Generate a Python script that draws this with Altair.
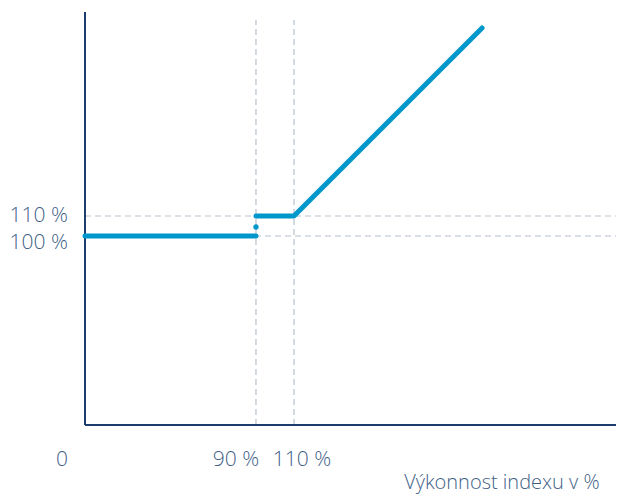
import altair as alt
import pandas as pd

# Data (schematic payoff chart)
seg_x = [0, 90, 90, 110, 209]
seg_y = [100, 100, 110, 110, 204]
seg_id = ["a", "a", "b", "b", "b"]
dot_x = [90]
dot_y = [104.5]
vlines = [90, 110]
hlines = [100, 110]
x_labels = ["0", "90 %", "110 %"]
x_label_pos = [0, 90, 110]
x_label_dx = [-23, -20, 8]
y_labels = ["110 %", "100 %"]
y_label_pos = [110, 100]
y_label_dy = [0, 7]
x_title = "Výkonnost indexu v %"

XMIN, XMAX = -40.53, 279.5
YMIN, YMAX = -30, 214
BASE_Y = 5.5
TOP_Y = 212
DASH_TOP = 208
LABEL_Y = -12
TITLE_Y = -23.5
TITLE_X = 168

xs = alt.Scale(domain=[XMIN, XMAX], nice=False, zero=False)
ys = alt.Scale(domain=[YMIN, YMAX], nice=False, zero=False)

BLUE = "#0098cb"
NAVY = "#1d3c6e"
GRID = "#b5c1ce"
TXT = "#3f5f86"
FONT = "Open Sans"
FS = 21

line_df = pd.DataFrame({"x": seg_x, "y": seg_y, "seg": seg_id})
dot_df = pd.DataFrame({"x": dot_x, "y": dot_y})
v_df = pd.DataFrame({"x": vlines, "y1": [BASE_Y] * len(vlines), "y2": [DASH_TOP] * len(vlines)})
h_df = pd.DataFrame({"y": hlines, "x1": [0] * len(hlines), "x2": [XMAX] * len(hlines)})

vdash = alt.Chart(v_df).mark_rule(color=GRID, strokeDash=[6, 4], strokeWidth=1.2).encode(
    x=alt.X("x:Q", scale=xs, axis=None), y=alt.Y("y1:Q", scale=ys, axis=None), y2="y2:Q")
hdash = alt.Chart(h_df).mark_rule(color=GRID, strokeDash=[6, 4], strokeWidth=1.2).encode(
    y=alt.Y("y:Q", scale=ys, axis=None), x=alt.X("x1:Q", scale=xs, axis=None), x2="x2:Q")

axes_df = pd.DataFrame({"x1": [0, 0], "x2": [0, XMAX], "y1": [BASE_Y, BASE_Y], "y2": [TOP_Y, BASE_Y]})
axes = alt.Chart(axes_df).mark_rule(color=NAVY, strokeWidth=2).encode(
    x=alt.X("x1:Q", scale=xs, axis=None), x2="x2:Q",
    y=alt.Y("y1:Q", scale=ys, axis=None), y2="y2:Q")

line = alt.Chart(line_df).mark_line(color=BLUE, strokeWidth=5, strokeCap="round", strokeJoin="round").encode(
    x=alt.X("x:Q", scale=xs, axis=None), y=alt.Y("y:Q", scale=ys, axis=None), detail="seg:N")

dot = alt.Chart(dot_df).mark_circle(color=BLUE, size=28, opacity=1).encode(
    x=alt.X("x:Q", scale=xs, axis=None), y=alt.Y("y:Q", scale=ys, axis=None))

text_style = dict(font=FONT, fontWeight=300, color=TXT, baseline="middle")

xlab_layers = []
for pos, t, d in zip(x_label_pos, x_labels, x_label_dx):
    df = pd.DataFrame({"x": [pos], "y": [LABEL_Y], "t": [t]})
    xlab_layers.append(
        alt.Chart(df).mark_text(align="center", dx=d, fontSize=FS, **text_style).encode(
            x=alt.X("x:Q", scale=xs, axis=None), y=alt.Y("y:Q", scale=ys, axis=None), text="t:N"))

ylab_layers = []
for pos, t, d in zip(y_label_pos, y_labels, y_label_dy):
    df = pd.DataFrame({"x": [0], "y": [pos], "t": [t]})
    ylab_layers.append(
        alt.Chart(df).mark_text(align="right", dx=-17, dy=d, fontSize=FS, **text_style).encode(
            x=alt.X("x:Q", scale=xs, axis=None), y=alt.Y("y:Q", scale=ys, axis=None), text="t:N"))

title = alt.Chart(pd.DataFrame({"x": [TITLE_X], "y": [TITLE_Y], "t": [x_title]})).mark_text(
    align="left", fontSize=20, **text_style).encode(
    x=alt.X("x:Q", scale=xs, axis=None), y=alt.Y("y:Q", scale=ys, axis=None), text="t:N")

chart = alt.layer(vdash, hdash, axes, line, dot, *xlab_layers, *ylab_layers, title).properties(
    width=608, height=488, padding=0, autosize=alt.AutoSizeParams(type="none")
).configure_view(stroke=None)

chart.save("out.html", embed_options={"renderer": "svg", "actions": False})
